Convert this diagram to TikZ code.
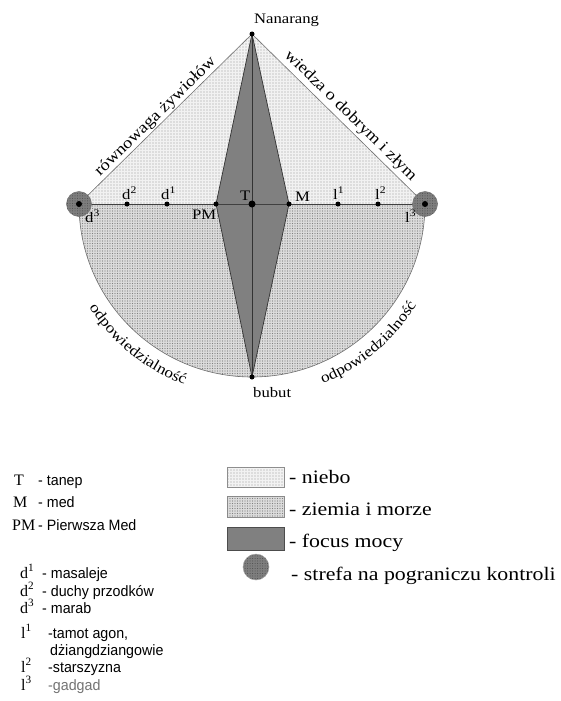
\documentclass[tikz,border=0pt]{standalone}
\usepackage{fontspec}
\setmainfont{Liberation Serif}
\newfontfamily\wserif[FakeStretch=1.15]{Liberation Serif}
\newfontfamily\nsans[FakeStretch=0.95]{Liberation Sans}
\usetikzlibrary{decorations.text,calc,patterns.meta}
\definecolor{skyc}{HTML}{F2F2F2}
\definecolor{earthc}{HTML}{DCDCDC}
\definecolor{focusc}{HTML}{808080}
\definecolor{zonec}{HTML}{7E7E7E}
\definecolor{edgec}{HTML}{707070}
\tikzset{
  skyfill/.style={fill=skyc, postaction={pattern={Dots[distance=3pt, radius=0.55pt]}, pattern color=black!40}},
  earthfill/.style={fill=earthc, postaction={pattern={Dots[distance=2.5pt, radius=0.6pt]}, pattern color=black!50}},
  zonefill/.style={fill=zonec, postaction={pattern={Dots[distance=2.5pt, radius=0.5pt]}, pattern color=black!70}},
  dot/.style={circle, fill=black, inner sep=0pt, minimum size=5pt},
  bigdot/.style={circle, fill=black, inner sep=0pt, minimum size=7pt},
  zone/.style={circle, zonefill, draw=black!55, line width=0.5pt, inner sep=0pt, minimum size=25pt},
  lbl/.style={font=\wserif\fontsize{14.5}{14.5}\selectfont, inner sep=0pt},
  edgetxt/.style={font=\wserif\fontsize{16}{16}\selectfont},
  legl/.style={font=\fontsize{16}{16}\selectfont, inner sep=0pt, anchor=base west},
  legd/.style={font=\nsans\fontsize{15}{15}\selectfont, inner sep=0pt, anchor=base west},
  legr/.style={font=\wserif\fontsize{19}{19}\selectfont, inner sep=0pt, anchor=base west},
  swatch/.style={rectangle, draw=black!45, line width=0.6pt, inner sep=0pt, minimum width=57pt},
}
\begin{document}
\begin{tikzpicture}[x=1pt,y=1pt]
\useasboundingbox (0,0) rectangle (560,-701);
% key points
\coordinate (A) at (252,-34);
\coordinate (Bt) at (252,-377);
\coordinate (L) at (79,-204);
\coordinate (R) at (425,-204);
\coordinate (C) at (252,-204);
\coordinate (PMp) at (216,-204);
\coordinate (Mp) at (289,-204);
% regions
\path[earthfill] (L) arc[start angle=180, end angle=360, radius=173] -- cycle;
\draw[edgec, line width=0.6pt] (L) arc[start angle=180, end angle=360, radius=173];
\path[skyfill] (L) -- (A) -- (R) -- cycle;
\draw[edgec, line width=0.6pt] (L) -- (A) -- (R);
\filldraw[fill=focusc, draw=black!80, line width=0.7pt] (A) -- (PMp) -- (Bt) -- (Mp) -- cycle;
\draw[black!75, line width=0.9pt] (L) -- (R);
\draw[black!80, line width=0.7pt] (A) -- (Bt);
% zones
\node[zone] (zl) at (L) {};
\node[zone] (zr) at (R) {};
\draw[edgec, line width=0.6pt] (L) arc[start angle=180, end angle=184, radius=173];
\draw[edgec, line width=0.6pt] (R) arc[start angle=360, end angle=356, radius=173];
% dots
\node[dot] (apex) at (A) {};
\node[dot] (bubut) at (Bt) {};
\node[dot, minimum size=6pt] (cl) at (L) {};
\node[dot, minimum size=6pt] (cr) at (R) {};
\node[dot] (d2) at (127,-204) {};
\node[dot] (d1) at (167,-204) {};
\node[dot] (pm) at (PMp) {};
\node[bigdot] (t) at (C) {};
\node[dot] (m) at (Mp) {};
\node[dot] (l1) at (338,-204) {};
\node[dot] (l2) at (378,-204) {};
% point labels
\node[lbl, anchor=base west] (nan) at (254,-24) {Nanarang};
\node[lbl, anchor=base west] (bub) at (253,-397) {bubut};
\node[lbl, anchor=base west] (ld2) at (122,-199) {d\textsuperscript{2}};
\node[lbl, anchor=base west] (ld1) at (161,-199) {d\textsuperscript{1}};
\node[lbl, anchor=base west] (lt) at (240,-200) {T};
\node[lbl, anchor=base west] (lm) at (295,-201) {M};
\node[lbl, anchor=base west] (lpm) at (192,-219) {PM};
\node[lbl, anchor=base west] (ll1) at (333,-199) {l\textsuperscript{1}};
\node[lbl, anchor=base west] (ll2) at (375,-199) {l\textsuperscript{2}};
\node[lbl, anchor=base west] (ld3) at (85,-222) {d\textsuperscript{3}};
\node[lbl, anchor=base west] (ll3) at (405,-222) {l\textsuperscript{3}};
% edge texts
\node[edgetxt, rotate=44.5, anchor=south, inner sep=1pt] (rz) at ($(L)!0.477!(A)$) {równowaga żywiołów};
\node[edgetxt, rotate=-44.5, anchor=south, inner sep=3pt] (wd) at ($(A)!0.526!(R)$) {wiedza o dobrym i złym};
\path[decorate, decoration={text along path, text align=center,
  text={|\wserif\fontsize{15}{15}\selectfont|odpowiedzialność}}]
  ($(C)+(205:193)$) arc[start angle=205, end angle=257, radius=193];
\path[decorate, decoration={text along path, text align=center,
  text={|\wserif\fontsize{15}{15}\selectfont|odpowiedzialność}}]
  ($(C)+(284:193)$) arc[start angle=284, end angle=336, radius=193];
% left legend
\node[legl] (kT) at (14,-485) {T};
\node[legd] (vT) at (38,-485) {- tanep};
\node[legl] (kM) at (13,-507) {M};
\node[legd] (vM) at (38,-507) {- med};
\node[legl] (kPM) at (12,-530) {PM};
\node[legd] (vPM) at (38,-530) {- Pierwsza Med};
\node[legl] (kd1) at (20,-578) {d\textsuperscript{1}};
\node[legd] (vd1) at (42,-578) {- masaleje};
\node[legl] (kd2) at (20,-596) {d\textsuperscript{2}};
\node[legd] (vd2) at (42,-596) {- duchy przodków};
\node[legl] (kd3) at (20,-613) {d\textsuperscript{3}};
\node[legd] (vd3) at (42,-613) {- marab};
\node[legl] (kl1) at (21,-638) {l\textsuperscript{1}};
\node[legd] (vl1) at (48,-638) {-tamot agon,};
\node[legd] (vl1b) at (50,-655) {dżiangdziangowie};
\node[legl] (kl2) at (21,-672) {l\textsuperscript{2}};
\node[legd] (vl2) at (48,-672) {-starszyzna};
\node[legl] (kl3) at (21,-690) {l\textsuperscript{3}};
\node[legd, text=black!55] (vl3) at (48,-690) {-gadgad};
% right legend
\node[swatch, skyfill, minimum height=20pt] (s1) at (256,-477.5) {};
\node[swatch, earthfill, minimum height=21pt] (s2) at (256,-506.5) {};
\node[swatch, fill=focusc, draw=black!70, minimum height=23pt] (s3) at (256,-538.5) {};
\node[zone, draw=black!35, minimum size=26pt] (s4) at (256,-567) {};
\node[legr] (t1) at (289,-483) {- niebo};
\node[legr] (t2) at (289,-515) {- ziemia i morze};
\node[legr] (t3) at (289,-547) {- focus mocy};
\node[legr] (t4) at (291,-580) {- strefa na pograniczu kontroli};
\end{tikzpicture}
\end{document}
